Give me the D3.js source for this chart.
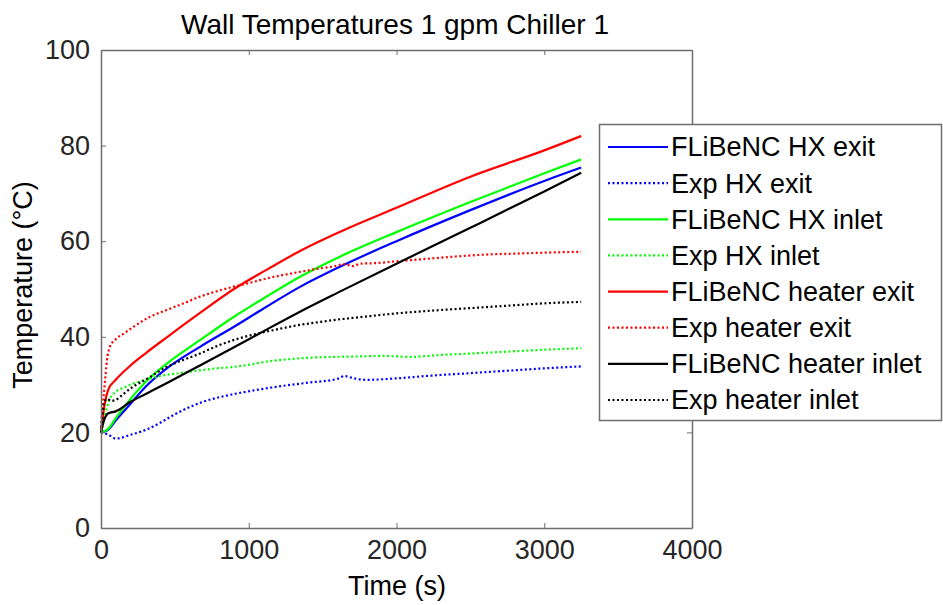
<!DOCTYPE html>
<html>
<head>
<meta charset="utf-8">
<script src="https://cdn.jsdelivr.net/npm/d3@7"></script>
<style>
  html, body { margin: 0; padding: 0; background: #fff; }
  svg { display: block; font-family: "Liberation Sans", Arial, Helvetica, sans-serif; }
</style>
</head>
<body>
<svg id="chart" width="943" height="605"></svg>
<script>
// ---- data ----
const chartTitle = "Wall Temperatures 1 gpm Chiller 1";
const xLabel = "Time (s)";
const yLabel = "Temperature (°C)";
const xTicks = [0, 1000, 2000, 3000, 4000];
const yTicks = [0, 20, 40, 60, 80, 100];

// model (FLiBeNC) time grid, s
const tModel = [0, 20, 50, 100, 200, 300, 450, 670, 900, 1120, 1350, 1620, 2000, 2500, 3000, 3250];
const flibeHxExit      = [20, 20.2, 20.6, 22.5, 26, 29.5, 33.5, 37.9, 42.1, 46.3, 50.5, 54.7, 60, 66.5, 72.6, 75.4];
const flibeHxInlet     = [20, 20.2, 20.8, 23, 27, 30.5, 34.5, 39.3, 44.2, 48.4, 52.6, 56.8, 61.9, 68.2, 74.2, 77.1];
const flibeHeaterExit  = [20, 25, 29, 31, 34, 36.5, 40, 45, 50, 54, 58, 62, 67, 73.5, 79, 82];
const flibeHeaterInlet = [20, 22.5, 24, 24.4, 26.4, 28, 30.4, 34, 37.8, 41.5, 45.3, 49.5, 55.3, 62.8, 70.4, 74.3];

// experimental series
const tExpHxExit = [0, 50, 100, 200, 300, 400, 500, 600, 700, 850, 1000, 1200, 1400, 1600, 1650, 1700, 1800, 2000, 2200, 2500, 2800, 3000, 3250];
const expHxExit  = [20, 19.5, 18.7, 19.5, 20.5, 22, 23.8, 25.3, 26.5, 27.7, 28.6, 29.6, 30.4, 31.2, 31.8, 31.4, 31, 31.3, 31.8, 32.4, 33, 33.4, 33.8];

const tExpHxInlet = [0, 15, 30, 60, 100, 150, 200, 300, 400, 530, 670, 780, 896, 1010, 1121, 1230, 1347, 1460, 1573, 1753, 1900, 2100, 2300, 2500, 2750, 3000, 3250];
const expHxInlet  = [20, 22, 24, 27, 28.5, 29.3, 30, 31, 31.8, 32.4, 33, 33.4, 33.7, 34.2, 34.8, 35.2, 35.5, 35.7, 35.8, 35.9, 36, 35.8, 36.2, 36.5, 36.9, 37.3, 37.6];

const tExpHeaterExit = [0, 10, 25, 40, 60, 100, 160, 220, 320, 444, 560, 670, 780, 900, 1010, 1120, 1230, 1350, 1460, 1570, 1650, 1700, 1760, 1850, 2000, 2200, 2400, 2600, 2800, 3000, 3250];
const expHeaterExit  = [21, 25, 30, 35, 37.9, 39.5, 40.8, 42.1, 44, 45.6, 47, 48.4, 49.5, 50.5, 51.3, 52.2, 52.9, 53.6, 54.2, 54.7, 55.2, 54.8, 55.3, 55.4, 55.8, 56.3, 56.8, 57.2, 57.4, 57.6, 57.8];

const tExpHeaterInlet = [0, 10, 20, 40, 70, 100, 150, 219, 300, 444, 560, 670, 780, 896, 1010, 1121, 1230, 1347, 1460, 1573, 1753, 2000, 2250, 2500, 2750, 3000, 3250];
const expHeaterInlet  = [20, 23.5, 26, 27, 26.6, 26.8, 28, 29.6, 31, 33.7, 35.2, 36.5, 38, 39.3, 40.3, 41.1, 41.8, 42.5, 43, 43.5, 44.1, 44.9, 45.5, 46, 46.5, 47, 47.3];

const seriesNames  = ["FLiBeNC HX exit", "Exp HX exit", "FLiBeNC HX inlet", "Exp HX inlet",
                      "FLiBeNC heater exit", "Exp heater exit", "FLiBeNC heater inlet", "Exp heater inlet"];
const seriesTimes  = [tModel, tExpHxExit, tModel, tExpHxInlet, tModel, tExpHeaterExit, tModel, tExpHeaterInlet];
const seriesValues = [flibeHxExit, expHxExit, flibeHxInlet, expHxInlet, flibeHeaterExit, expHeaterExit, flibeHeaterInlet, expHeaterInlet];
const seriesColors = ["#0000ff", "#0000ff", "#00ff00", "#00ff00", "#ff0000", "#ff0000", "#000000", "#000000"];
const seriesDotted = [false, true, false, true, false, true, false, true];

// ---- drawing ----
const svg = d3.select("#chart");
const L = 101, R = 692, T = 50, B = 528;
const x = d3.scaleLinear().domain([0, 4000]).range([L, R]);
const y = d3.scaleLinear().domain([0, 100]).range([B, T]);
const axisColor = "#6e6e6e";
const fontSize = 27;

const series = seriesNames.map((name, i) => ({
  name, color: seriesColors[i], dotted: seriesDotted[i],
  pts: seriesTimes[i].map((t, j) => [t, seriesValues[i][j]])
}));

const line = d3.line().x(d => x(d[0])).y(d => y(d[1])).curve(d3.curveMonotoneX);

const plotG = svg.append("g");
series.forEach(s => {
  plotG.append("path")
    .attr("d", line(s.pts))
    .attr("fill", "none")
    .attr("stroke", s.color)
    .attr("stroke-width", 2.2)
    .attr("stroke-dasharray", s.dotted ? "2,2.5" : null)
    .attr("stroke-linejoin", "round");
});

function styleAxis(g) {
  g.select(".domain").attr("stroke", axisColor).attr("stroke-width", 1.5);
  g.selectAll(".tick line").attr("stroke", axisColor).attr("stroke-width", 1);
  g.selectAll(".tick text").attr("fill", "#262626").attr("font-size", fontSize)
    .attr("font-family", "'Liberation Sans', Arial, sans-serif");
}

svg.append("g").attr("transform", `translate(0,${B})`)
  .call(d3.axisBottom(x).tickValues(xTicks).tickFormat(d3.format("d")).tickSize(-5).tickPadding(12).tickSizeOuter(0))
  .call(styleAxis);
svg.append("g").attr("transform", `translate(0,${T})`)
  .call(d3.axisTop(x).tickValues(xTicks).tickSize(-5).tickFormat("").tickSizeOuter(0))
  .call(styleAxis);
svg.append("g").attr("transform", `translate(${L},0)`)
  .call(d3.axisLeft(y).tickValues(yTicks).tickFormat(d3.format("d")).tickSize(-5).tickPadding(11).tickSizeOuter(0))
  .call(styleAxis);
svg.append("g").attr("transform", `translate(${R},0)`)
  .call(d3.axisRight(y).tickValues(yTicks).tickSize(-5).tickFormat("").tickSizeOuter(0))
  .call(styleAxis);

// title and axis labels
svg.append("text").attr("x", 395).attr("y", 34).attr("text-anchor", "middle")
  .attr("font-size", 28).attr("fill", "#000").text(chartTitle);
svg.append("text").attr("x", 397).attr("y", 595).attr("text-anchor", "middle")
  .attr("font-size", fontSize).attr("fill", "#000").text(xLabel);
svg.append("text").attr("transform", `translate(32,285) rotate(-90)`)
  .attr("text-anchor", "middle").attr("font-size", fontSize).attr("fill", "#000").text(yLabel);

// legend
const legG = svg.append("g");
legG.append("rect").attr("x", 599.5).attr("y", 124.5).attr("width", 342).attr("height", 296)
  .attr("fill", "#fff").attr("stroke", axisColor).attr("stroke-width", 1.5);
const rowY = d3.scaleLinear().domain([0, seriesNames.length - 1]).range([147, 400]);
series.forEach((s, i) => {
  const cy = rowY(i);
  legG.append("line").attr("x1", 608).attr("x2", 668).attr("y1", cy).attr("y2", cy)
    .attr("stroke", s.color).attr("stroke-width", 2.2)
    .attr("stroke-dasharray", s.dotted ? "2,2.5" : null);
  legG.append("text").attr("x", 671).attr("y", cy).attr("dy", "0.35em")
    .attr("font-size", fontSize).attr("fill", "#000").text(s.name);
});
</script>
</body>
</html>
